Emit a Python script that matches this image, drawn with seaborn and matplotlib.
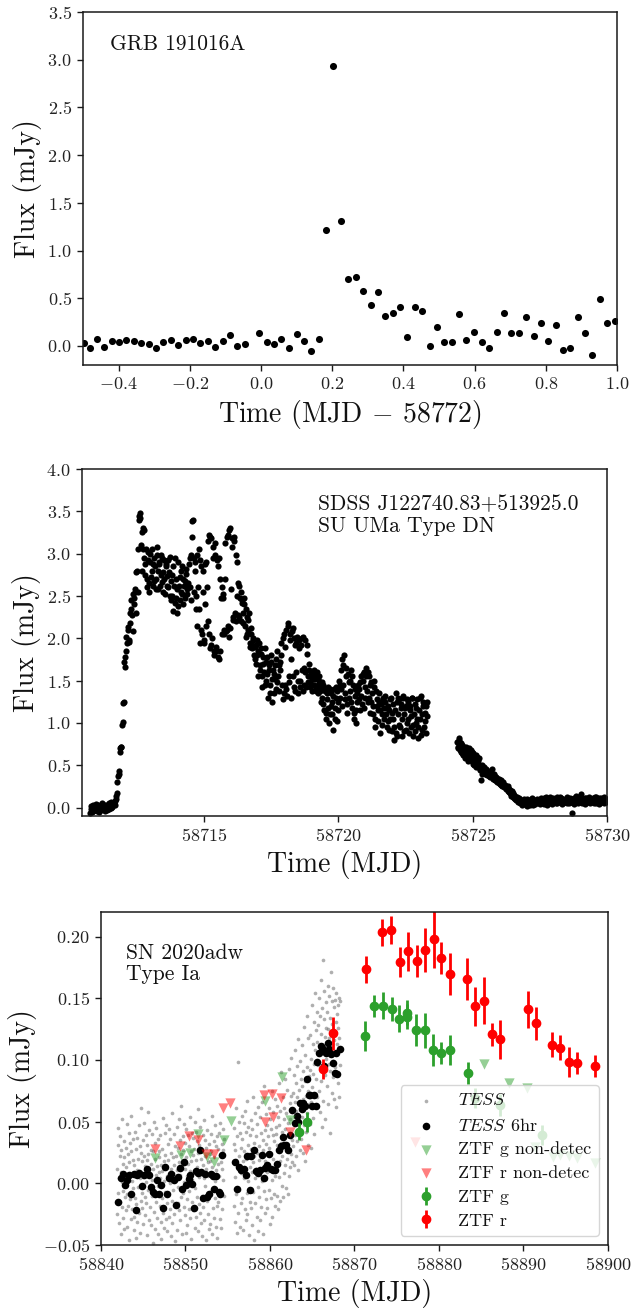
import numpy as np
import matplotlib
matplotlib.use("Agg")
import matplotlib.pyplot as plt
import seaborn as sns

# ---------------- Panel 1: GRB 191016A ----------------
grb_time = [-0.498, -0.481, -0.461, -0.441, -0.419, -0.399, -0.378, -0.357, -0.337, -0.316,
            -0.295, -0.275, -0.254, -0.233, -0.212, -0.191, -0.171, -0.150, -0.129, -0.108,
            -0.087, -0.067, -0.046, -0.005, 0.017, 0.037, 0.057, 0.079, 0.100, 0.121,
            0.141, 0.162, 0.183, 0.203, 0.224, 0.245, 0.266, 0.286, 0.308, 0.328,
            0.348, 0.370, 0.390, 0.411, 0.432, 0.453, 0.474, 0.495, 0.515, 0.537,
            0.557, 0.577, 0.599, 0.620, 0.640, 0.662, 0.682, 0.703, 0.724, 0.744,
            0.766, 0.786, 0.807, 0.828, 0.849, 0.869, 0.890, 0.911, 0.931, 0.953,
            0.973, 0.993]
grb_flux = [0.035, -0.024, 0.073, -0.010, 0.056, 0.038, 0.063, 0.056, 0.031, 0.017,
            -0.021, 0.038, 0.063, 0.007, 0.059, 0.073, 0.028, 0.049, -0.010, 0.049,
            0.115, -0.003, 0.017, 0.139, 0.042, 0.021, 0.077, -0.024, 0.129, 0.056,
            -0.056, 0.073, 1.218, 2.931, 1.312, 0.703, 0.720, 0.571, 0.432, 0.564,
            0.310, 0.341, 0.404, 0.094, 0.404, 0.362, 0.003, 0.195, 0.038, 0.042,
            0.338, 0.059, 0.146, 0.038, -0.024, 0.143, 0.348, 0.136, 0.132, 0.299,
            0.101, 0.237, 0.049, 0.223, -0.045, -0.017, 0.303, 0.132, -0.097, 0.491,
            0.237, 0.265]

# ---------------- Panel 2: SDSS J122740.83+513925.0 ----------------
# TESS samples; "a" lists on the hour, "b" lists on the half hour
dn_orbit1_start = 58710.75
dn_orbit2_start = 58724.42
dn_cadence = 1.0 / 24.0
dn_flux_orbit1_a = [
    -0.06, -0.02, 0.01, -0.04, 0.02, -0.03, 0.00, 0.03, -0.05, -0.01, 0.02, 0.04, -0.02, 0.00, 0.03, -0.03, 0.01, 0.05, 0.02, -0.01, 0.04, 0.07, 0.03, 0.10,
    0.17, 0.37, 0.43, 0.70, 0.72, 1.01, 1.25, 1.66, 1.85, 1.95, 2.13, 1.98, 2.30, 2.35, 2.08, 2.48, 2.55, 2.30, 2.80, 2.55, 3.45, 3.42, 3.25, 3.05,
    3.28, 2.75, 3.05, 2.60, 2.92, 2.55, 3.00, 2.80, 2.62, 2.95, 2.85, 2.70, 3.08, 2.58, 2.88, 2.98, 2.66, 2.78, 2.92, 2.52, 2.85, 2.74, 2.60, 2.96,
    2.45, 2.75, 2.32, 2.62, 2.95, 2.48, 2.58, 2.38, 2.72, 2.55, 2.85, 2.40, 2.62, 2.68, 2.76, 2.52, 2.60, 2.95, 2.45, 3.20, 3.40, 2.55, 2.90, 2.35,
    2.15, 3.05, 1.95, 2.85, 2.05, 2.55, 1.98, 2.40, 2.90, 2.20, 3.22, 1.88, 3.18, 2.00, 3.08, 1.80, 2.98, 1.85, 2.85, 1.75, 2.70, 2.48, 2.05, 2.52,
    2.05, 3.12, 2.10, 3.22, 2.02, 3.30, 2.58, 3.18, 2.25, 3.15, 2.20, 2.90, 2.28, 2.62, 2.48, 2.20, 2.45, 2.18, 2.40, 2.02, 2.25, 2.10, 2.30, 1.95,
    2.05, 1.88, 1.98, 1.75, 1.92, 1.80, 1.55, 1.95, 1.62, 1.82, 1.42, 1.70, 1.88, 1.50, 1.78, 1.30, 1.62, 1.45, 1.72, 1.25, 1.58, 1.68, 1.40, 1.85,
    1.55, 1.38, 1.62, 1.95, 1.28, 2.05, 1.45, 2.10, 1.32, 2.18, 1.55, 1.98, 1.75, 2.12, 1.42, 1.92, 1.60, 2.02, 1.35, 1.88, 1.50, 2.00, 1.38, 1.65,
    1.98, 1.42, 1.82, 1.55, 1.62, 1.48, 1.38, 1.58, 1.45, 1.52, 1.40, 1.60, 1.35, 1.50, 1.42, 1.30, 1.45, 1.15, 1.38, 1.05, 1.28, 1.42, 1.10, 1.35,
    1.25, 0.92, 1.40, 1.05, 1.30, 1.38, 1.15, 1.45, 1.62, 1.20, 1.68, 1.80, 1.35, 1.55, 1.12, 1.48, 1.38, 1.62, 1.18, 1.45, 1.05, 1.32, 1.00, 1.25,
    1.40, 1.15, 1.55, 1.22, 1.50, 1.60, 1.30, 1.65, 1.25, 1.55, 1.12, 1.48, 1.35, 1.20, 1.42, 0.95, 1.28, 1.15, 1.35, 0.88, 1.22, 1.10, 1.30, 1.18,
    1.25, 0.95, 1.20, 1.15, 1.05, 1.30, 0.90, 1.22, 0.80, 1.35, 0.85, 1.10, 1.28, 0.95, 1.18, 1.05, 1.32, 0.90, 1.20, 1.00, 1.25, 0.88, 1.15, 1.08,
    1.30, 0.85, 1.22, 1.00, 1.28, 0.82, 1.15, 1.05, 1.32, 0.92, 1.20, 1.12, 0.88, 1.25,
]
dn_flux_orbit1_b = [
    0.02, -0.05, 0.03, 0.00, -0.02, 0.04, -0.04, 0.01, 0.02, -0.03, 0.05, -0.01, 0.03, -0.04, 0.00, 0.02, -0.02, 0.03, 0.06, 0.01, 0.03, 0.05, 0.08, 0.14,
    0.30, 0.40, 0.66, 0.71, 0.98, 1.23, 1.72, 1.78, 2.02, 2.10, 1.96, 2.18, 2.45, 2.28, 2.52, 2.40, 2.58, 2.78, 3.05, 3.40, 3.48, 3.10, 2.80, 3.30,
    2.95, 2.88, 2.70, 3.02, 2.65, 2.90, 2.72, 3.06, 2.88, 2.68, 2.58, 2.98, 2.80, 2.90, 2.62, 2.75, 2.95, 2.55, 2.70, 2.88, 2.62, 2.92, 2.78, 2.50,
    2.68, 2.50, 2.85, 2.42, 2.70, 2.30, 2.90, 2.62, 2.45, 2.80, 2.52, 2.70, 2.48, 2.82, 2.58, 2.65, 2.88, 2.60, 2.98, 3.38, 2.95, 2.80, 2.50, 2.98,
    2.60, 2.35, 2.92, 2.10, 2.80, 1.95, 2.88, 2.15, 2.60, 3.15, 2.05, 3.20, 1.92, 2.95, 1.85, 3.12, 1.90, 2.92, 1.78, 2.95, 1.85, 2.60, 2.48, 2.10,
    2.70, 2.08, 3.20, 2.15, 3.28, 2.12, 3.08, 2.22, 3.20, 2.30, 2.98, 2.50, 2.65, 2.25, 2.55, 2.42, 2.30, 2.48, 2.15, 2.35, 2.05, 2.22, 1.90, 2.12,
    1.92, 2.00, 1.80, 1.90, 1.70, 1.98, 1.85, 1.68, 1.88, 1.55, 1.78, 1.60, 1.45, 1.72, 1.58, 1.68, 1.35, 1.80, 1.52, 1.62, 1.35, 1.52, 1.75, 1.48,
    1.68, 1.72, 1.80, 1.45, 2.00, 1.35, 1.90, 1.40, 2.15, 1.48, 2.05, 1.30, 2.08, 1.55, 2.00, 1.38, 1.95, 1.50, 1.98, 1.42, 1.92, 1.62, 2.02, 1.45,
    1.60, 1.92, 1.48, 1.70, 1.42, 1.58, 1.52, 1.45, 1.62, 1.38, 1.55, 1.45, 1.55, 1.38, 1.25, 1.48, 1.22, 1.40, 1.12, 1.35, 1.18, 1.00, 1.40, 1.20,
    1.10, 1.32, 1.18, 1.42, 1.02, 1.25, 1.50, 1.30, 1.40, 1.75, 1.45, 1.28, 1.65, 1.22, 1.58, 1.30, 1.50, 1.25, 1.55, 1.12, 1.40, 1.15, 1.35, 1.45,
    1.28, 1.48, 1.32, 1.58, 1.18, 1.42, 1.55, 1.38, 1.60, 1.30, 1.45, 1.25, 1.10, 1.50, 1.05, 1.38, 1.20, 1.02, 1.25, 1.15, 0.98, 1.28, 1.05, 1.32,
    1.10, 1.18, 1.02, 0.92, 1.28, 1.12, 1.05, 0.95, 1.15, 0.88, 1.25, 1.30, 0.98, 1.22, 0.85, 1.30, 1.10, 1.18, 0.92, 1.28, 1.05, 1.20, 0.95, 1.30,
    0.98, 1.10, 0.90, 1.18, 1.05, 0.95, 1.30, 0.86, 1.10, 1.25, 0.95, 1.02, 1.20, 1.08,
]
dn_flux_orbit2_a = [
    0.78, 0.70, 0.82, 0.66, 0.74, 0.62, 0.72, 0.58, 0.68, 0.64, 0.55, 0.70, 0.60, 0.66, 0.52, 0.62, 0.58, 0.48, 0.60, 0.55, 0.45, 0.32, 0.50, 0.42,
    0.48, 0.40, 0.44, 0.38, 0.42, 0.36, 0.40, 0.45, 0.34, 0.38, 0.32, 0.36, 0.30, 0.34, 0.28, 0.32, 0.26, 0.30, 0.24, 0.27, 0.22, 0.25, 0.18, 0.21,
    0.16, 0.19, 0.12, 0.15, 0.10, 0.13, 0.08, 0.11, 0.06, 0.09, 0.03, 0.07, 0.10, 0.05, 0.02, 0.08, 0.04, 0.09, 0.06, 0.11, 0.03, 0.07, 0.05, 0.08,
    0.06, 0.09, 0.04, 0.10, 0.07, 0.05, 0.11, 0.08, 0.03, 0.09, 0.06, 0.12, 0.07, 0.04, 0.10, 0.08, 0.05, 0.13, 0.07, 0.09, 0.06, 0.11, 0.04, 0.08,
    0.09, 0.06, 0.12, 0.08, 0.05, 0.10, 0.07, -0.07, 0.11, 0.06, 0.14, 0.08, 0.05, 0.10, 0.07, 0.12, 0.06, 0.09, 0.04, 0.11, 0.08, 0.06, 0.10, 0.07,
    0.08, 0.11, 0.05, 0.09, 0.12, 0.06, 0.10, 0.04, 0.08, 0.11, 0.07, 0.05, 0.09, 0.06, 0.10,
]
dn_flux_orbit2_b = [
    0.72, 0.80, 0.68, 0.76, 0.65, 0.70, 0.64, 0.72, 0.60, 0.66, 0.62, 0.58, 0.68, 0.55, 0.64, 0.50, 0.62, 0.55, 0.52, 0.58, 0.44, 0.48, 0.40, 0.46,
    0.42, 0.46, 0.40, 0.43, 0.37, 0.41, 0.38, 0.36, 0.40, 0.33, 0.35, 0.31, 0.34, 0.29, 0.31, 0.27, 0.29, 0.25, 0.26, 0.23, 0.24, 0.20, 0.22, 0.17,
    0.14, 0.17, 0.11, 0.13, 0.09, 0.12, 0.07, 0.10, 0.05, 0.08, 0.06, 0.09, 0.04, 0.07, 0.10, 0.05, 0.08, 0.03, 0.10, 0.06, 0.09, 0.04, 0.07, 0.10,
    0.08, 0.05, 0.11, 0.07, 0.09, 0.04, 0.08, 0.12, 0.06, 0.10, 0.07, 0.05, 0.09, 0.11, 0.06, 0.08, 0.10, 0.05, 0.09, 0.12, 0.07, 0.05, 0.10, 0.06,
    0.07, 0.10, 0.05, 0.09, 0.11, 0.06, 0.08, 0.10, 0.04, 0.09, 0.07, 0.12, 0.06, 0.08, 0.16, 0.05, 0.10, 0.07, 0.11, 0.06, 0.09, 0.12, 0.05, 0.08,
    0.10, 0.06, 0.09, 0.12, 0.05, 0.08, 0.11, 0.07, 0.10, 0.06, 0.09, 0.12, 0.07, 0.08,
]

# ---------------- Panel 3: SN 2020adw ----------------
tess_seg1_start = 58841.90
tess_seg2_start = 58855.70
tess_cadence = 1.0 / 24.0
tess_flux_seg1 = [
    0.012, -0.025, 0.031, -0.008, 0.045, -0.032, 0.004, 0.022, -0.015, 0.038, -0.041, 0.009, 0.027, -0.019, 0.001, 0.052, -0.028, 0.016, -0.006, 0.034, -0.037, 0.021, -0.011, 0.007,
    0.029, -0.022, 0.013, 0.048, -0.009, -0.035, 0.024, 0.003, -0.018, 0.041, 0.017, -0.046, 0.008, 0.033, -0.013, 0.026, -0.029, 0.055, 0.002, -0.021, 0.036, -0.004, 0.019, -0.038,
    0.015, -0.027, 0.042, -0.012, 0.006, -0.044, 0.028, -0.017, 0.011, 0.037, -0.031, 0.020, -0.003, 0.047, -0.024, 0.010, 0.030, -0.040, 0.004, 0.025, -0.014, 0.061, -0.008, 0.018,
    -0.020, 0.035, 0.005, -0.033, 0.022, 0.049, -0.011, 0.014, -0.026, 0.039, 0.001, -0.016, 0.031, -0.042, 0.019, 0.058, -0.005, 0.024, -0.030, 0.011, 0.043, -0.019, 0.008, 0.027,
    -0.034, 0.016, 0.040, -0.010, 0.003, -0.048, 0.026, 0.012, -0.023, 0.050, -0.006, 0.020, -0.037, 0.033, 0.007, -0.015, 0.045, -0.028, 0.014, -0.002, 0.036, -0.041, 0.021, 0.009,
    0.026, -0.018, 0.004, 0.039, -0.031, 0.015, -0.045, 0.028, 0.010, -0.012, 0.053, -0.024, 0.018, 0.002, -0.036, 0.041, -0.007, 0.023, -0.029, 0.013, 0.047, -0.016, 0.006, -0.039,
    0.032, -0.009, 0.019, -0.027, 0.044, 0.000, -0.021, 0.036, -0.043, 0.012, 0.025, -0.014, 0.057, -0.032, 0.008, 0.021, -0.005, 0.040, -0.025, 0.015, -0.047, 0.030, 0.003, -0.017,
    0.022, -0.038, 0.011, 0.046, -0.016, 0.029, -0.003, 0.052, -0.022, 0.017, 0.035, -0.030, 0.007, 0.063, -0.011, 0.024, -0.041, 0.014, 0.038, -0.008, 0.027, -0.019, 0.048, 0.001,
    -0.026, 0.033, 0.012, -0.040, 0.021, 0.044, -0.013, 0.006, -0.034, 0.039, 0.016, -0.021, 0.030, -0.006, 0.054, -0.028, 0.010, 0.026, -0.045, 0.018, 0.003, 0.041, -0.015, 0.023,
    0.037, -0.022, 0.009, 0.028, -0.036, 0.050, -0.004, 0.019, -0.027, 0.042, 0.013, -0.011, 0.034, -0.039, 0.025, 0.060, -0.017, 0.005, 0.031, -0.024, 0.046, 0.008, -0.032, 0.020,
    -0.010, 0.027, -0.043, 0.015, 0.039, -0.019, 0.004, 0.051, -0.030, 0.022, -0.002, 0.035, -0.046, 0.012, 0.029, -0.014, 0.043, -0.025, 0.017, 0.006, -0.037, 0.032, -0.008, 0.024,
    0.018, -0.033, 0.040, -0.006, 0.026, -0.041, 0.013, 0.055, -0.020, 0.008, 0.034, -0.028, 0.021, -0.012, 0.047, 0.002, -0.035, 0.030, 0.011, -0.018, 0.038, -0.044, 0.016, 0.028,
    -0.015, 0.041, 0.006, -0.029, 0.023, 0.049, -0.008, 0.017, -0.036, 0.032, 0.012, -0.021, 0.044, 0.003, 0.027, -0.010, 0.036,
]
tess_flux_seg2 = [
    0.032, -0.018, 0.045, 0.005, -0.031, 0.027, 0.061, -0.009, 0.019, -0.040, 0.038, 0.012, 0.098, -0.024, 0.022, 0.050, -0.005, 0.014, -0.035, 0.041, 0.008, 0.029, -0.016, 0.055,
    -0.012, 0.036, 0.018, -0.038, 0.049, 0.004, 0.026, -0.021, 0.059, 0.011, -0.030, 0.042, 0.020, -0.008, 0.067, -0.025, 0.031, 0.002, 0.046, -0.042, 0.024, 0.013, -0.015, 0.039,
    0.051, -0.020, 0.028, 0.009, -0.034, 0.044, 0.017, 0.070, -0.007, 0.033, -0.046, 0.022, 0.004, 0.057, -0.016, 0.038, 0.012, -0.027, 0.048, 0.025, -0.003, 0.062, -0.039, 0.019,
    0.030, -0.011, 0.054, 0.007, -0.030, 0.041, 0.023, -0.019, 0.066, 0.002, 0.035, -0.041, 0.027, 0.014, 0.079, -0.006, 0.043, -0.024, 0.018, 0.056, -0.013, 0.032, 0.009, 0.047,
    -0.020, 0.038, 0.016, 0.061, -0.005, 0.029, -0.033, 0.052, 0.011, 0.044, -0.012, 0.025, 0.075, 0.003, -0.027, 0.039, 0.020, 0.058, -0.009, 0.034, 0.006, 0.068, -0.018, 0.046,
    0.040, 0.012, 0.063, -0.010, 0.031, 0.054, -0.021, 0.026, 0.081, 0.005, 0.047, 0.018, -0.014, 0.059, 0.033, 0.090, -0.002, 0.042, 0.022, 0.070, -0.011, 0.037, 0.052, 0.008,
    0.061, 0.015, 0.044, 0.085, -0.004, 0.032, 0.057, 0.020, 0.076, -0.009, 0.049, 0.028, 0.093, 0.006, 0.040, 0.065, 0.013, 0.052, 0.102, 0.024, 0.071, 0.035, 0.058, 0.017,
    0.073, 0.030, 0.088, 0.047, 0.015, 0.066, 0.108, 0.039, 0.081, 0.022, 0.059, 0.095, 0.034, 0.070, 0.011, 0.052, 0.117, 0.044, 0.076, 0.027, 0.063, 0.099, 0.041, 0.085,
    0.036, 0.079, 0.054, 0.112, 0.025, 0.068, 0.091, 0.047, 0.127, 0.060, 0.018, 0.083, 0.104, 0.042, 0.071, 0.136, 0.057, 0.094, 0.031, 0.075, 0.118, 0.050, 0.087, 0.064,
    0.092, 0.048, 0.120, 0.066, 0.029, 0.101, 0.078, 0.145, 0.053, 0.089, 0.113, 0.040, 0.097, 0.131, 0.072, 0.108, 0.154, 0.062, 0.124, 0.085, 0.139, 0.070, 0.115, 0.096,
    0.128, 0.075, 0.150, 0.098, 0.058, 0.136, 0.112, 0.165, 0.083, 0.121, 0.046, 0.142, 0.094, 0.181, 0.106, 0.067, 0.133, 0.156, 0.088, 0.119, 0.052, 0.147, 0.101, 0.126,
    0.079, 0.139, 0.110, 0.160, 0.064, 0.125, 0.097, 0.152, 0.118, 0.041, 0.134, 0.091, 0.171, 0.107, 0.148, 0.073, 0.129, 0.099, 0.158, 0.086, 0.116, 0.143, 0.068, 0.122,
    0.149, 0.094, 0.131, 0.062, 0.154, 0.113, 0.137, 0.081, 0.126, 0.145, 0.070, 0.118, 0.150, 0.096, 0.148,
]
bin_time = [58842.05, 58842.33, 58842.66, 58842.87, 58843.07, 58843.36, 58843.60, 58843.89, 58844.09, 58844.22,
            58844.50, 58844.83, 58845.12, 58845.41, 58845.65, 58845.86, 58846.14, 58846.43, 58846.67, 58846.88,
            58847.08, 58847.37, 58847.58, 58847.86, 58848.07, 58848.31, 58848.60, 58848.89, 58849.13, 58849.34,
            58849.62, 58849.83, 58850.11, 58850.36, 58850.52, 58850.77, 58850.97, 58851.26, 58851.47, 58851.67,
            58851.88, 58852.08, 58852.29, 58852.57, 58852.78, 58852.98, 58853.23, 58853.43, 58853.64, 58853.92,
            58854.13, 58854.33,
            58855.85, 58856.09, 58856.38, 58856.58, 58856.91, 58857.12, 58857.32, 58857.61,
            58857.81, 58858.10, 58858.30, 58858.55, 58858.84, 58859.04, 58859.25, 58859.45, 58859.66, 58859.86,
            58860.07, 58860.35, 58860.60, 58860.80, 58861.09, 58861.29, 58861.50, 58861.70, 58861.91, 58862.11,
            58862.40, 58862.65, 58862.93, 58863.14, 58863.34, 58863.55, 58863.75, 58863.96, 58864.16, 58864.37,
            58864.57, 58864.77, 58864.98, 58865.18, 58865.39, 58865.59, 58865.80, 58866.00, 58866.21, 58866.41,
            58866.62, 58866.82, 58867.03, 58867.23, 58867.44, 58867.64, 58867.85, 58867.97, 58868.26]
bin_flux = [-0.015, 0.0043, 0.0078, -0.0016, 0.0024, 0.0065, -0.009, 0.0078, -0.0218, 0.007,
            0.0086, -0.0022, 0.0065, 0.0118, 0.0065, -0.003, -0.007, -0.0083, 0.0024, -0.0083,
            -0.0011, -0.0204, 0.0132, -0.009, 0.0043, 0.0078, 0.003, -0.0172, 0.0051, 0.0124,
            -0.0043, 0.0172, -0.0011, 0.0032, 0.0065, -0.0003, -0.0204, 0.0097, 0.0086, 0.0274,
            0.0091, -0.0118, 0.0078, -0.011, -0.0083, 0.0078, 0.0059, -0.0043, 0.0059, -0.007,
            -0.009, 0.0226,
            0.0172, -0.0043, 0.0132, 0.0105, 0.0113, 0.0065, 0.022, -0.0056,
            0.022, 0.0274, 0.0097, 0.0086, 0.0105, 0.0226, 0.0043, 0.0124, 0.0145, 0.0239,
            0.0118, 0.0105, 0.0105, 0.0159, 0.0274, 0.0301, 0.0374, 0.0312, 0.0312, 0.0274,
            0.0392, 0.0597, 0.0489, 0.0543, 0.0495, 0.065, 0.0602, 0.065, 0.0629, 0.085,
            0.0715, 0.0715, 0.0624, 0.0715, 0.0624, 0.0984, 0.1054, 0.1113, 0.110, 0.0952,
            0.1054, 0.1134, 0.1091, 0.1046, 0.0978, 0.0898, 0.1059, 0.0884, 0.1086]

ztf_r_time = [58866.33, 58867.44, 58871.33, 58873.29, 58874.32, 58875.34, 58876.32, 58877.35, 58878.29, 58879.35,
              58880.29, 58881.36, 58883.28, 58884.31, 58885.29, 58886.31, 58887.21, 58890.49, 58891.43, 58893.36,
              58894.34, 58895.37, 58896.39, 58898.43]
ztf_r_flux = [0.093, 0.1215, 0.1737, 0.2035, 0.2054, 0.1796, 0.188, 0.180, 0.189, 0.198,
              0.1825, 0.170, 0.166, 0.1435, 0.148, 0.1207, 0.1167, 0.141, 0.1296, 0.1124,
              0.110, 0.0984, 0.0973, 0.0954]
ztf_r_err = [0.008, 0.013, 0.011, 0.011, 0.011, 0.012, 0.016, 0.013, 0.018, 0.023,
             0.013, 0.017, 0.017, 0.016, 0.019, 0.009, 0.016, 0.015, 0.013, 0.010,
             0.010, 0.012, 0.009, 0.009]

ztf_g_time = [58863.46, 58864.41, 58871.24, 58872.27, 58873.41, 58874.40, 58875.30, 58876.24, 58876.26, 58877.26,
              58878.29, 58879.27, 58880.29, 58881.32, 58883.49, 58884.30, 58887.20, 58892.20]
ztf_g_flux = [0.0419, 0.0495, 0.1194, 0.1441, 0.1441, 0.1414, 0.1336, 0.1385, 0.1352, 0.124,
              0.124, 0.108, 0.106, 0.108, 0.0892, 0.0689, 0.0635, 0.039]
ztf_g_err = [0.007, 0.008, 0.012, 0.009, 0.011, 0.010, 0.011, 0.010, 0.010, 0.013,
             0.014, 0.013, 0.009, 0.012, 0.009, 0.008, 0.009, 0.008]

ztf_r_ul_time = [58846.43, 58849.34, 58850.40, 58851.47, 58852.41, 58853.43, 58854.41, 58855.27, 58859.25, 58860.27,
                 58861.29, 58859.45, 58860.39, 58862.32, 58864.24, 58877.15]
ztf_r_ul_flux = [0.028, 0.0306, 0.038, 0.0355, 0.024, 0.024, 0.0608, 0.065, 0.0715, 0.0728,
                 0.0694, 0.050, 0.0535, 0.0414, 0.0274, 0.0337]

ztf_g_ul_time = [58846.43, 58849.42, 58850.48, 58851.47, 58852.57, 58853.43, 58854.50, 58855.44, 58859.45, 58861.42,
                 58862.40, 58885.37, 58888.30, 58890.37, 58891.39, 58893.44, 58894.34, 58895.37, 58896.39, 58898.43]
ztf_g_ul_flux = [0.0204, 0.0231, 0.0247, 0.040, 0.0212, 0.0172, 0.0355, 0.0508, 0.067, 0.0866,
                 0.0516, 0.0966, 0.0817, 0.077, 0.0293, 0.0212, 0.0226, 0.022, 0.0204, 0.0167]

# ---------------- Style ----------------
sns.set_theme(style="ticks")
plt.rcParams.update({
    "font.family": ["cmr10"],
    "mathtext.fontset": "cm",
    "axes.formatter.use_mathtext": True,
    "axes.edgecolor": "#1a1a1a",
    "axes.linewidth": 1.1,
    "xtick.color": "#1a1a1a",
    "ytick.color": "#1a1a1a",
    "xtick.labelcolor": "#222222",
    "ytick.labelcolor": "#222222",
    "xtick.labelsize": 13,
    "ytick.labelsize": 13,
    "xtick.major.size": 4.5,
    "ytick.major.size": 4.5,
    "xtick.major.width": 1.0,
    "ytick.major.width": 1.0,
    "axes.labelsize": 20,
    "axes.labelcolor": "#111111",
    "text.color": "#111111",
    "axes.unicode_minus": True,
})

fig = plt.figure(figsize=(6.31, 13.08), dpi=100)
W, H = 631.0, 1308.0

def axes_px(left, right, top, bottom):
    return fig.add_axes([left / W, 1 - bottom / H, (right - left) / W, (bottom - top) / H])

# ---- Panel 1
ax1 = axes_px(83, 617, 12, 365)
sns.scatterplot(x=grb_time, y=grb_flux, ax=ax1, color="black", s=26, linewidth=0)
ax1.set_xlim(-0.5, 1.0)
ax1.set_ylim(-0.2, 3.5)
ax1.set_xticks([-0.4, -0.2, 0.0, 0.2, 0.4, 0.6, 0.8, 1.0])
ax1.set_yticks([0.0, 0.5, 1.0, 1.5, 2.0, 2.5, 3.0, 3.5])
ax1.set_xlabel(r"Time (MJD $-$ 58772)")
ax1.set_ylabel("Flux (mJy)")
ax1.text(0.05, 0.935, "GRB 191016A", transform=ax1.transAxes, va="top", ha="left", fontsize=15.5)

# ---- Panel 2
ax2 = axes_px(82, 607, 469, 816)
half = 0.5 * dn_cadence
t1a = dn_orbit1_start + np.arange(len(dn_flux_orbit1_a)) * dn_cadence
t1b = dn_orbit1_start + half + np.arange(len(dn_flux_orbit1_b)) * dn_cadence
t2a = dn_orbit2_start + np.arange(len(dn_flux_orbit2_a)) * dn_cadence
t2b = dn_orbit2_start + half + np.arange(len(dn_flux_orbit2_b)) * dn_cadence
dn_time = np.concatenate([t1a, t1b, t2a, t2b])
dn_flux = np.concatenate([dn_flux_orbit1_a, dn_flux_orbit1_b, dn_flux_orbit2_a, dn_flux_orbit2_b])
sns.scatterplot(x=dn_time, y=dn_flux, ax=ax2, color="black", s=20, linewidth=0)
ax2.set_xlim(58710.45, 58730)
ax2.set_ylim(-0.1, 4.0)
ax2.set_xticks([58715, 58720, 58725, 58730])
ax2.set_yticks([0.0, 0.5, 1.0, 1.5, 2.0, 2.5, 3.0, 3.5, 4.0])
ax2.ticklabel_format(axis="x", useOffset=False, style="plain")
ax2.set_xlabel("Time (MJD)")
ax2.set_ylabel("Flux (mJy)")
ax2.text(0.45, 0.925, "SDSS J122740.83+513925.0\nSU UMa Type DN", transform=ax2.transAxes,
         va="top", ha="left", fontsize=15.5, linespacing=1.1)

# ---- Panel 3
ax3 = axes_px(101, 608, 912, 1245)
ts1 = tess_seg1_start + np.arange(len(tess_flux_seg1)) * tess_cadence
ts2 = tess_seg2_start + np.arange(len(tess_flux_seg2)) * tess_cadence
tess_time = np.concatenate([ts1, ts2])
tess_flux = np.concatenate([tess_flux_seg1, tess_flux_seg2])

gray_pts = sns.scatterplot(x=tess_time, y=tess_flux, ax=ax3, color="#6e6e6e", s=7, alpha=0.55,
                           linewidth=0, label=r"$TESS$")
ax3.collections[-1].set_snap(False)
sns.scatterplot(x=bin_time, y=bin_flux, ax=ax3, color="black", s=30, linewidth=0,
                label=r"$TESS$ 6hr")
sns.scatterplot(x=ztf_g_ul_time, y=ztf_g_ul_flux, ax=ax3, color="tab:green", marker="v",
                s=55, alpha=0.5, linewidth=0, label="ZTF g non-detec")
sns.scatterplot(x=ztf_r_ul_time, y=ztf_r_ul_flux, ax=ax3, color="red", marker="v",
                s=55, alpha=0.5, linewidth=0, label="ZTF r non-detec")
ax3.errorbar(ztf_g_time, ztf_g_flux, yerr=ztf_g_err, fmt="o", color="tab:green", ms=6,
             elinewidth=2, capsize=0, label="ZTF g")
ax3.errorbar(ztf_r_time, ztf_r_flux, yerr=ztf_r_err, fmt="o", color="red", ms=6,
             elinewidth=2, capsize=0, label="ZTF r")
ax3.set_xlim(58840, 58900)
ax3.set_ylim(-0.05, 0.22)
ax3.set_xticks([58840, 58850, 58860, 58870, 58880, 58890, 58900])
ax3.set_yticks([-0.05, 0.0, 0.05, 0.10, 0.15, 0.20])
ax3.ticklabel_format(axis="x", useOffset=False, style="plain")
ax3.set_xlabel("Time (MJD)")
ax3.set_ylabel("Flux (mJy)")
ax3.text(0.05, 0.905, "SN 2020adw\nType Ia", transform=ax3.transAxes, va="top", ha="left",
         fontsize=15.5, linespacing=1.1)
handles, labels = ax3.get_legend_handles_labels()
order = [r"$TESS$", r"$TESS$ 6hr", "ZTF g non-detec", "ZTF r non-detec", "ZTF g", "ZTF r"]
hl = dict(zip(labels, handles))
leg = ax3.legend([hl[k] for k in order], order, loc="lower right", fontsize=13,
                 frameon=True, framealpha=0.8, fancybox=True, edgecolor="#cccccc",
                 borderaxespad=0.5, handletextpad=0.8, labelspacing=0.45)
leg.set_zorder(10)

fig.savefig("out.png", dpi=100)
